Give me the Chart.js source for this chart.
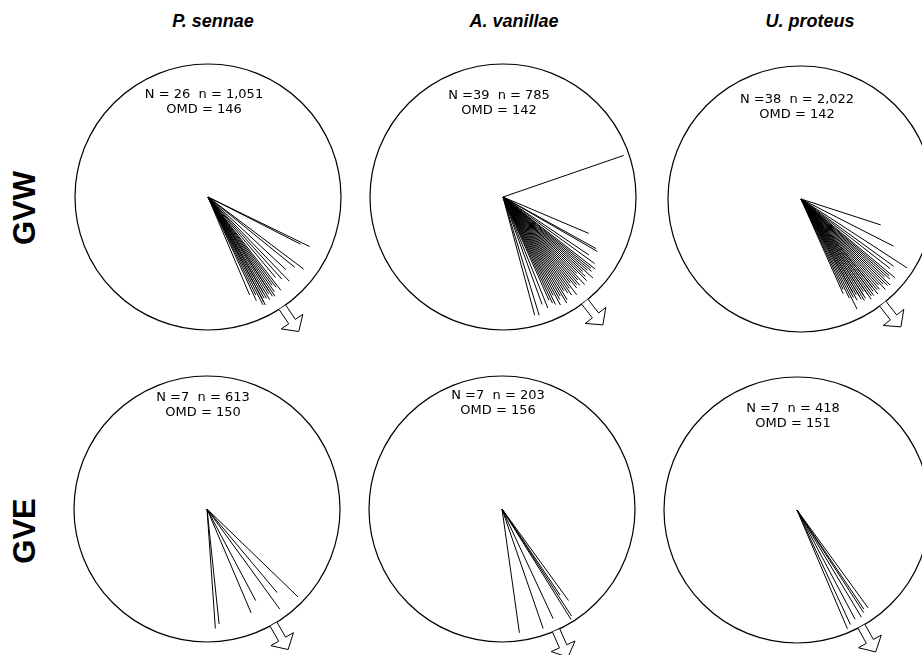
<!DOCTYPE html>
<html>
<head>
<meta charset="utf-8">
<script src="https://cdn.jsdelivr.net/npm/chart.js@4/dist/chart.umd.min.js"></script>
<style>
  html, body { margin: 0; padding: 0; background: #fff; }
  #fig { position: relative; width: 922px; height: 655px; overflow: hidden; background: #fff; }
  #fig canvas { position: absolute; }
  .col { position: absolute; top: 11px; font: italic bold 18px "Liberation Sans", Arial, sans-serif;
         transform: translateX(-50%); white-space: nowrap; color: #000; }
  .row { position: absolute; font: bold 31px "Liberation Sans", Arial, sans-serif; color: #000;
         transform: translate(-50%, -50%) rotate(-90deg); white-space: nowrap; line-height: 1; }
</style>
</head>
<body>
<div id="fig"></div>
<script>
// Column (species) and row (group) headings
const species = ["P. sennae", "A. vanillae", "U. proteus"];
const groups = ["GVW", "GVE"];

// Individual orientation vectors: bearing in degrees clockwise from north,
// length as a fraction of the circle radius (r = 1)
const angGVW_sennae = [116, 117, 127, 129, 133, 136, 138, 140, 142, 143,
                       144, 145, 146, 147, 147, 148, 149, 150, 150, 151,
                       152, 152, 153, 154, 155, 157];
const lenGVW_sennae = [0.85, 0.78, 0.90, 0.84, 0.80, 0.88, 0.83, 0.79, 0.89, 0.85,
                       0.82, 0.87, 0.90, 0.89, 0.84, 0.86, 0.90, 0.83, 0.88, 0.87,
                       0.92, 0.89, 0.91, 0.82, 0.86, 0.80];

const angGVW_vanillae = [71, 113, 119, 120, 124, 126, 128, 129, 130, 131, 132,
                         133, 134, 135, 136, 137, 138, 139, 140, 141, 142,
                         143, 144, 145, 146, 147, 148, 149, 150, 151, 152,
                         153, 154, 155, 156, 158, 160, 163, 165];
const lenGVW_vanillae = [0.96, 0.70, 0.80, 0.82, 0.78, 0.85, 0.88, 0.85, 0.87, 0.84, 0.91,
                         0.82, 0.86, 0.89, 0.80, 0.90, 0.84, 0.88, 0.86, 0.88, 0.82,
                         0.92, 0.85, 0.90, 0.87, 0.84, 0.91, 0.93, 0.86, 0.88, 0.92,
                         0.83, 0.90, 0.88, 0.85, 0.90, 0.86, 0.93, 0.92];

const angGVW_proteus = [108, 117, 123, 126, 128, 130, 131, 132, 133, 134,
                        135, 136, 137, 138, 139, 140, 141, 141, 142, 143,
                        143, 144, 145, 145, 146, 147, 147, 148, 149, 149,
                        150, 151, 151, 152, 153, 154, 155, 156];
const lenGVW_proteus = [0.63, 0.78, 0.95, 0.86, 0.85, 0.92, 0.88, 0.90, 0.86, 0.93,
                        0.92, 0.89, 0.93, 0.87, 0.90, 0.89, 0.92, 0.85, 0.88, 0.91,
                        0.86, 0.90, 0.87, 0.92, 0.84, 0.89, 0.86, 0.90, 0.85, 0.88,
                        0.83, 0.87, 0.80, 0.84, 0.93, 0.83, 0.75, 0.78];

const angGVE_sennae = [134, 140, 144, 152, 157, 174, 176];
const lenGVE_sennae = [0.95, 0.82, 0.93, 0.78, 0.85, 0.87, 0.90];

const angGVE_vanillae = [144, 146, 147, 148, 155, 161, 172];
const lenGVE_vanillae = [0.85, 0.78, 0.96, 0.98, 0.91, 0.95, 0.94];

const angGVE_proteus = [144, 146, 147, 149, 152, 155, 157];
const lenGVE_proteus = [0.91, 0.90, 0.92, 0.94, 0.93, 0.95, 0.97];

// Mean orientation (OMD, degrees) and number of observations per panel
const omd = [146, 142, 142, 150, 156, 151];
const nObs = ["1,051", "785", "2,022", "613", "203", "418"];

const panelAngles = [angGVW_sennae, angGVW_vanillae, angGVW_proteus,
                     angGVE_sennae, angGVE_vanillae, angGVE_proteus];
const panelLengths = [lenGVW_sennae, lenGVW_vanillae, lenGVW_proteus,
                      lenGVE_sennae, lenGVE_vanillae, lenGVE_proteus];

// ---- page layout (pixels) ----
const R = 133;                       // circle radius in pixels
const CW = 300, CH = 340;            // canvas size per panel
const OX = 150, OY = 150;            // circle centre inside the canvas
const centres = [[208, 197], [503, 197], [801, 199], [207, 509], [502, 509], [797, 510]];
const statY = [0.77, 0.765, 0.75, 0.835, 0.85, 0.76];   // first stat line height (radius units)

const fig = document.getElementById('fig');

species.forEach((s, i) => {
  const d = document.createElement('div');
  d.className = 'col';
  d.textContent = s;
  d.style.left = [213, 514, 810][i] + 'px';
  fig.appendChild(d);
});
groups.forEach((g, i) => {
  const d = document.createElement('div');
  d.className = 'row';
  d.textContent = g;
  d.style.left = '24px';
  d.style.top = [208, 531][i] + 'px';
  fig.appendChild(d);
});

const rad = a => a * Math.PI / 180;

// circle, mean-direction arrow and sample statistics
const compassPlugin = {
  id: 'compass',
  beforeDatasetsDraw(chart) {
    const { ctx, scales: { x, y } } = chart;
    const cx = x.getPixelForValue(0), cy = y.getPixelForValue(0);
    const r = x.getPixelForValue(1) - cx;
    ctx.save();
    ctx.beginPath();
    ctx.arc(cx, cy, r, 0, Math.PI * 2);
    ctx.strokeStyle = '#000';
    ctx.lineWidth = 1.2;
    ctx.stroke();
    ctx.restore();
  },
  afterDatasetsDraw(chart, args, opts) {
    const { ctx, scales: { x, y } } = chart;
    const t = rad(opts.omd);
    const dx = Math.sin(t), dy = Math.cos(t);
    const px = Math.cos(t), py = -Math.sin(t);
    const r0 = 1.0, r1 = 1.13, r2 = 1.22, hw = 0.03, hh = 0.098;
    const pts = [
      [r0 * dx + hw * px, r0 * dy + hw * py],
      [r1 * dx + hw * px, r1 * dy + hw * py],
      [r1 * dx + hh * px, r1 * dy + hh * py],
      [r2 * dx, r2 * dy],
      [r1 * dx - hh * px, r1 * dy - hh * py],
      [r1 * dx - hw * px, r1 * dy - hw * py],
      [r0 * dx - hw * px, r0 * dy - hw * py]
    ];
    ctx.save();
    ctx.beginPath();
    pts.forEach((p, k) => {
      const X = x.getPixelForValue(p[0]), Y = y.getPixelForValue(p[1]);
      if (k === 0) ctx.moveTo(X, Y); else ctx.lineTo(X, Y);
    });
    ctx.fillStyle = '#fff';
    ctx.fill();
    ctx.strokeStyle = '#000';
    ctx.lineWidth = 1;
    ctx.lineJoin = 'miter';
    ctx.stroke();

    ctx.fillStyle = '#000';
    ctx.font = '13px "DejaVu Sans", sans-serif';
    ctx.textAlign = 'center';
    ctx.textBaseline = 'middle';
    const tx = x.getPixelForValue(-0.03);
    ctx.fillText(opts.line1, tx, y.getPixelForValue(opts.statY));
    ctx.fillText(opts.line2, tx, y.getPixelForValue(opts.statY) + 15);
    ctx.restore();
  }
};

panelAngles.forEach((angs, i) => {
  const lens = panelLengths[i];
  const cv = document.createElement('canvas');
  cv.width = CW; cv.height = CH;
  cv.style.left = (centres[i][0] - OX) + 'px';
  cv.style.top = (centres[i][1] - OY) + 'px';
  cv.style.width = CW + 'px'; cv.style.height = CH + 'px';
  fig.appendChild(cv);

  const datasets = angs.map((a, k) => ({
    data: [{ x: 0, y: 0 }, { x: lens[k] * Math.sin(rad(a)), y: lens[k] * Math.cos(rad(a)) }],
    showLine: true,
    borderColor: '#000',
    borderWidth: 1,
    pointRadius: 0,
    fill: false
  }));

  const line1 = (i === 0 ? 'N = ' : 'N =') + angs.length + '  n = ' + nObs[i];
  const line2 = 'OMD = ' + omd[i];

  new Chart(cv, {
    type: 'scatter',
    data: { datasets },
    options: {
      responsive: false,
      animation: false,
      events: [],
      layout: { padding: 0 },
      plugins: {
        legend: { display: false },
        tooltip: { enabled: false },
        compass: { omd: omd[i], line1, line2, statY: statY[i] }
      },
      scales: {
        x: { type: 'linear', display: false, min: -OX / R, max: (CW - OX) / R },
        y: { type: 'linear', display: false, min: -(CH - OY) / R, max: OY / R }
      }
    },
    plugins: [compassPlugin]
  });
});
</script>
</body>
</html>
